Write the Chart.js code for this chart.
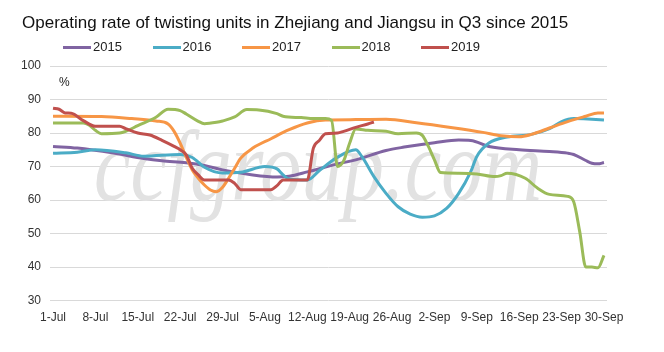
<!DOCTYPE html>
<html lang="en">
<head>
    <meta charset="UTF-8">
    <title>Operating rate of twisting units</title>
    <script src="https://cdn.jsdelivr.net/npm/chart.js"></script>
    <style>
        body { margin: 0; background: #fff; font-family: "Liberation Sans", Arial, sans-serif; }
        #wrap { position: relative; width: 664px; height: 352px; }
        #title { position: absolute; left: 22px; top: 13px; font-size: 17px; line-height: 20px; color: #111; white-space: nowrap; }
        #legend { position: absolute; left: 63px; top: 39px; display: flex; font-size: 13px; line-height: 16px; color: #222; }
        .item { width: 89.5px; display: flex; align-items: center; }
        .swatch { width: 28px; height: 3px; margin-right: 2px; }
        #unit { position: absolute; left: 59px; top: 75px; font-size: 12px; line-height: 14px; color: #222; }
    </style>
</head>
<body>
<div id="wrap">
    <canvas id="chart" width="664" height="352"></canvas>
    <div id="title">Operating rate of twisting units in Zhejiang and Jiangsu in Q3 since 2015</div>
    <div id="legend"></div>
    <div id="unit">%</div>
</div>

<script>
    // x axis: every day of Q3, only weekly labels shown
    const months = [['Jul', 31], ['Aug', 31], ['Sep', 30]];
    const tickLabels = ['1-Jul', '8-Jul', '15-Jul', '22-Jul', '29-Jul', '5-Aug', '12-Aug',
        '19-Aug', '26-Aug', '2-Sep', '9-Sep', '16-Sep', '23-Sep', '30-Sep'];

    const seriesNames = ['2015', '2016', '2017', '2018', '2019'];
    const seriesColors = ['#8064A2', '#4BACC6', '#F79646', '#9BBB59', '#C0504D'];

    // day index (0 = 1-Jul) and operating rate
    const days2015 = [0, 4, 10, 15, 18, 22, 25, 28, 33, 37, 39, 42, 47, 50, 55, 58, 63, 67, 69, 72, 77, 82, 85, 86, 88, 89, 90, 91];
    const rate2015 = [76, 75.5, 74, 72.4, 71.7, 71.1, 70.3, 69, 67.5, 66.9, 67.1, 68.4, 70.8, 72, 74.8, 75.8, 77.1, 77.9, 77.8, 76, 75, 74.5, 74, 73.6, 71.8, 71, 70.8, 71.2];

    const days2016 = [0, 4, 7, 12, 15, 21, 23, 25, 28, 31, 35, 37, 38, 39, 42, 44, 47, 50, 51, 53, 55, 57, 59, 61, 63, 65, 67, 69, 70, 72, 75, 79, 82, 84, 86, 89, 91];
    const rate2016 = [74, 74.3, 75, 74.1, 73.1, 73.6, 72.7, 69.8, 68.1, 68.3, 70, 69.3, 67.5, 66.3, 66, 68.8, 72.8, 75, 73, 67, 62, 58, 55.8, 54.9, 55.3, 57.5, 62, 68.5, 73, 77, 78.8, 79.6, 81.3, 83.4, 84.3, 84.1, 83.9];

    const days2017 = [0, 8, 13, 17, 19, 20, 21, 22, 23, 24, 25, 26, 27, 28, 29, 30, 31, 33, 36, 39, 42, 45, 50, 55, 60, 66, 71, 74, 77, 79, 82, 85, 88, 90, 91];
    const rate2017 = [85, 84.9, 84.3, 83.6, 82.7, 80.5, 77, 72.8, 69, 66.5, 64.5, 63, 62.5, 63.8, 66.5, 69.5, 72.5, 75.5, 78.3, 81, 83, 83.9, 84, 84.1, 83.1, 81.6, 80.2, 79.2, 78.9, 79.6, 81.5, 83.4, 85, 86, 86];

    const days2018 = [0, 5, 6, 7, 8, 11, 12, 14, 17, 19, 21, 22, 24, 25, 27, 28, 30, 32, 34, 37, 38, 41, 43, 45, 46, 47, 48, 49, 50, 52, 55, 57, 60, 61, 62, 63, 64, 67, 70, 73, 74, 75, 78, 80, 82, 85, 86, 87, 88, 89, 90, 91];
    const rate2018 = [83, 83, 82.3, 80.8, 79.8, 80, 80.5, 82.2, 84.7, 87.1, 86.7, 85.7, 83.5, 82.8, 83.2, 83.6, 84.8, 87, 86.9, 85.8, 85, 84.6, 84.3, 84.3, 83.8, 70, 71.7, 77, 81.2, 80.8, 80.5, 79.8, 80, 79.3, 76, 72, 68.2, 68, 67.8, 67, 67.3, 68, 66.5, 63.6, 61.7, 61.1, 59.5, 50.5, 40, 40, 39.8, 43.5];

    const days2019 = [0, 1, 2, 3, 5, 7, 11, 12, 14, 16, 18, 20, 21, 22, 23, 24, 25, 29, 30, 31, 36, 37, 38, 42, 43, 44, 45, 47, 48, 50, 52, 53];
    const rate2019 = [87.4, 87.1, 86, 85.9, 83.7, 82, 82, 81.3, 80, 79.4, 77.8, 76, 75, 73.5, 69.5, 67.5, 66, 66, 65, 63.1, 63.1, 64.3, 66, 66, 75.5, 77.8, 79.8, 80, 80.5, 81.7, 82.7, 83.3];

    const allDays = [days2015, days2016, days2017, days2018, days2019];
    const allRates = [rate2015, rate2016, rate2017, rate2018, rate2019];

    let dayLabels = [];
    months.forEach(([m, n]) => {
        for (let d = 1; d <= n; d++) dayLabels.push(d + '-' + m);
    });

    let datasets = seriesNames.map((name, i) => ({
        label: name,
        data: allDays[i].map((d, k) => ({ x: dayLabels[d], y: allRates[i][k] })),
        borderColor: seriesColors[i],
        backgroundColor: seriesColors[i],
        borderWidth: 3,
        pointRadius: 0,
        fill: false,
        cubicInterpolationMode: 'monotone',
        order: seriesNames.length - i
    }));

    // legend in html
    let legend = document.getElementById('legend');
    seriesNames.forEach((name, i) => {
        legend.innerHTML += '<div class="item"><span class="swatch" style="background:' + seriesColors[i] + '"></span>' + name + '</div>';
    });

    // faint watermark behind the lines
    const watermark = {
        id: 'watermark',
        beforeDatasetsDraw(chart) {
            let c = chart.ctx;
            c.save();
            c.font = 'italic 102px "Liberation Serif", serif';
            c.fillStyle = '#e2e2e2';
            let w = c.measureText('ccfgroup.com').width;
            c.translate(94, 200);
            c.scale(448 / w, 1);
            c.fillText('ccfgroup.com', 0, 0);
            c.restore();
        }
    };

    const tickFont = { family: '"Liberation Sans", Arial, sans-serif', size: 12 };

    let chart = new Chart(document.getElementById('chart').getContext('2d'), {
        type: 'line',
        data: { labels: dayLabels, datasets: datasets },
        plugins: [watermark],
        options: {
            responsive: false,
            animation: false,
            layout: { padding: { top: 66, right: 57, bottom: 17, left: 0 } },
            plugins: {
                legend: { display: false },
                title: { display: false },
                tooltip: { enabled: false }
            },
            scales: {
                x: {
                    type: 'category',
                    offset: true,
                    grid: { display: false, drawTicks: false },
                    border: { display: false },
                    ticks: {
                        autoSkip: false,
                        maxRotation: 0,
                        padding: 10,
                        color: '#333',
                        font: tickFont,
                        callback: (v, i) => (i % 7 === 0 ? tickLabels[i / 7] : '')
                    }
                },
                y: {
                    min: 30,
                    max: 100,
                    afterFit: (scale) => { scale.width = 50; },
                    grid: { color: '#d9d9d9', drawTicks: false },
                    border: { display: false },
                    ticks: { stepSize: 10, padding: 9, color: '#333', font: tickFont }
                }
            }
        }
    });
</script>
</body>
</html>
